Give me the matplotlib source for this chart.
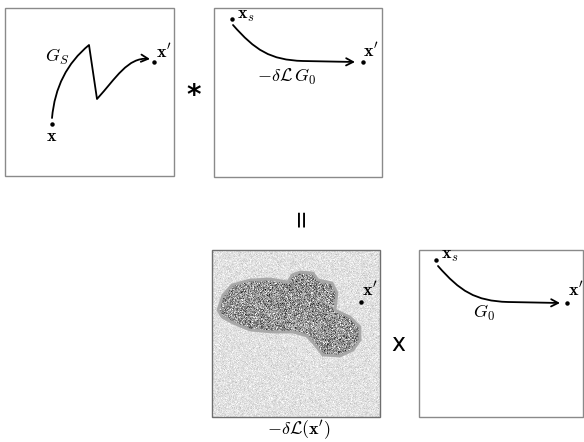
import matplotlib
matplotlib.use("Agg")
import matplotlib.pyplot as plt
import numpy as np
from matplotlib.patches import Rectangle, PathPatch, FancyArrowPatch
from matplotlib.path import Path

plt.rcParams["mathtext.fontset"] = "cm"

# panel frames: (left, top, width, height) in pixels
boxes = {
    "gs": (5, 8, 169, 168),
    "dl_g0": (214, 8, 168, 169),
    "dl": (212, 250, 168, 167),
    "g0": (419, 250, 164, 167),
}

# source / target points
dots_x = [52, 154, 232, 363, 361, 436, 567]
dots_y = [124, 62, 19, 62, 302, 260, 303]

# G_S path: smooth rise, sharp drop, rise to x'
gs_path = [(52, 118), (56, 72), (89, 45), (97, 99), (116, 78), (128, 57), (150, 59)]
gs_codes = [Path.MOVETO, Path.CURVE3, Path.CURVE3, Path.LINETO,
            Path.CURVE4, Path.CURVE4, Path.CURVE4]

# G_0 style path (relative to source point)
g0_path = [(0, 0), (22, 25), (37, 35), (70, 36), (122, 37)]
g0_codes = [Path.MOVETO, Path.CURVE4, Path.CURVE4, Path.CURVE4, Path.LINETO]
g0_starts = [(233, 25), (438, 266)]

# outline of the perturbation region
blob_x = [218, 223, 232, 250, 270, 288, 292, 300, 313, 318, 332, 337, 335,
          350, 360, 360, 353, 340, 323, 315, 307, 293, 273, 250, 233, 222]
blob_y = [310, 295, 285, 280, 279, 282, 275, 272, 273, 280, 283, 293, 310,
          317, 327, 340, 350, 356, 355, 345, 336, 332, 332, 330, 323, 317]

labels = [
    (52, 136, r"$\mathbf{x}$"),
    (164, 52, r"$\mathbf{x}'$"),
    (57, 57, r"$G_S$"),
    (246, 15, r"$\mathbf{x}_s$"),
    (371, 51, r"$\mathbf{x}'$"),
    (287, 77, r"$-\delta\mathcal{L}\,G_0$"),
    (370, 290, r"$\mathbf{x}'$"),
    (299, 430, r"$-\delta\mathcal{L}(\mathbf{x}')$"),
    (450, 255, r"$\mathbf{x}_s$"),
    (576, 290, r"$\mathbf{x}'$"),
    (484, 313, r"$G_0$"),
]

fig = plt.figure(figsize=(5.84, 4.42), dpi=100)
ax = fig.add_axes([0, 0, 1, 1])
ax.set_xlim(0, 584)
ax.set_ylim(442, 0)
ax.axis("off")

# noisy texture for the -dL panel
rng = np.random.default_rng(3)
x0, y0, w, h = boxes["dl"]
ext = (x0, x0 + w, y0 + h, y0)
bg = np.clip(rng.normal(0.88, 0.045, (h, w)), 0, 1)
ax.imshow(bg, cmap="gray", vmin=0, vmax=1, extent=ext,
          interpolation="bilinear", zorder=1)
fg = np.clip(rng.normal(0.58, 0.16, (h, w)), 0, 1)
blob = Path(np.column_stack([blob_x + blob_x[:1], blob_y + blob_y[:1]]), closed=True)
clip = PathPatch(blob, transform=ax.transData, facecolor="none", edgecolor="none")
ax.add_patch(clip)
im = ax.imshow(fg, cmap="gray", vmin=0, vmax=1, extent=ext,
               interpolation="bilinear", zorder=2)
im.set_clip_path(clip)
ax.add_patch(PathPatch(blob, facecolor="none", edgecolor="#a8a8a8", lw=2.0,
                       joinstyle="round", zorder=3))

for key, (bx, by, bw, bh) in boxes.items():
    ax.add_patch(Rectangle((bx, by), bw, bh, fill=False,
                           edgecolor="#6e6e6e" if key == "dl" else "#8a8a8a",
                           lw=1.0, zorder=4))

arrow_kw = dict(arrowstyle="->,head_length=5,head_width=2.6", color="black",
                lw=1.3, zorder=5, shrinkA=0, shrinkB=0)
ax.add_patch(FancyArrowPatch(path=Path(gs_path, gs_codes), **arrow_kw))
for sx, sy in g0_starts:
    pts = [(sx + px, sy + py) for px, py in g0_path]
    ax.add_patch(FancyArrowPatch(path=Path(pts, g0_codes), **arrow_kw))

ax.plot(dots_x, dots_y, "o", color="black", markersize=2.2, zorder=6)

for tx, ty, s in labels:
    ax.text(tx, ty, s, fontsize=13, ha="center", va="center", zorder=7)

ax.text(194, 96, "*", fontsize=20, fontweight="bold", ha="center", va="center")
ax.text(301, 217, "=", fontsize=17, rotation=90, ha="center", va="center")
ax.text(398, 344, "x", fontsize=17, family="DejaVu Sans", ha="center", va="center")

fig.savefig("out.png", dpi=100)
